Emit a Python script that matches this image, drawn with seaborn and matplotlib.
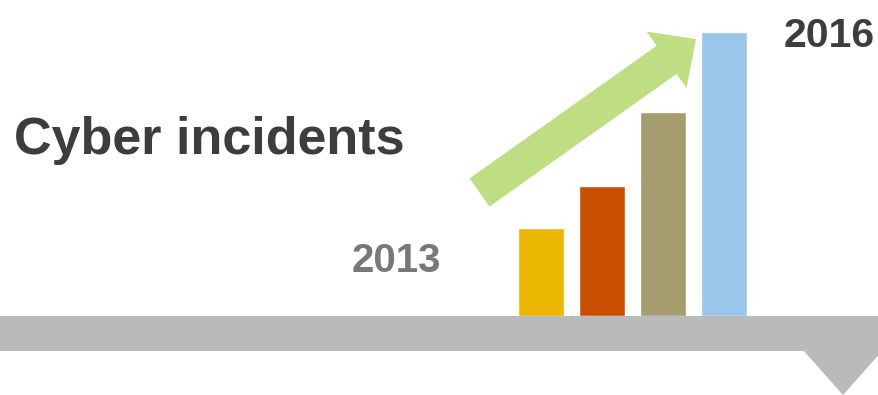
import matplotlib
matplotlib.use("Agg")
import matplotlib.pyplot as plt
from matplotlib.patches import FancyArrow, Polygon, Rectangle
import pandas as pd
import seaborn as sns

# Relative incident volume per year
years = ["2013", "2014", "2015", "2016"]
incidents = [88, 130, 204, 284]
bar_colors = ["#ebb700", "#c94f00", "#a69d6e", "#99c6e9"]

title_text = "Cyber incidents"
start_label = years[0]
end_label = years[-1]

sns.set_theme(style="white")
plt.rcParams["font.family"] = ["Liberation Sans", "DejaVu Sans"]

W, H = 879, 395
fig = plt.figure(figsize=(W / 100, H / 100), dpi=100)
fig.patch.set_facecolor("white")

# Background layer in pixel units (y grows downward)
deco = fig.add_axes([0, 0, 1, 1], zorder=0)
deco.set_xlim(0, W)
deco.set_ylim(H, 0)
deco.axis("off")

gray = "#b9babc"
deco.add_patch(Rectangle((0, 316), W, 35, facecolor=gray, edgecolor="none"))
deco.add_patch(Polygon([(803, 350), (883, 350), (843, 395)], closed=True,
                       facecolor=gray, edgecolor="none"))

tail = (479.5, 192.5)
tip = (696, 39)
deco.add_patch(FancyArrow(tail[0], tail[1], tip[0] - tail[0], tip[1] - tail[1],
                          width=34.5, head_width=69, head_length=36,
                          length_includes_head=True, facecolor="#bfdd82",
                          edgecolor="none"))

deco.text(14, 154, title_text, fontsize=37.5, fontweight="bold",
          color="#3d3d3d", ha="left", va="baseline")
deco.text(352, 272, start_label, fontsize=29, fontweight="bold",
          color="#787878", ha="left", va="baseline")
deco.text(784, 47, end_label, fontsize=29.5, fontweight="bold",
          color="#3d3d3d", ha="left", va="baseline")

# Bar chart layer
df = pd.DataFrame({"year": years, "incidents": incidents})
slot = 61.0
left_px = 541 - slot / 2
bottom_px = 316
top_px = 32
ax = fig.add_axes([left_px / W, (H - bottom_px) / H, 4 * slot / W,
                   (bottom_px - top_px) / H], zorder=1)
ax.patch.set_alpha(0)
sns.barplot(data=df, x="year", y="incidents", hue="year", palette=bar_colors,
            width=0.75, legend=False, saturation=1, ax=ax)
ax.set_xlim(-0.5, 3.5)
ax.set_ylim(0, max(incidents))
ax.axis("off")

fig.savefig("out.png", dpi=100, facecolor="white")
